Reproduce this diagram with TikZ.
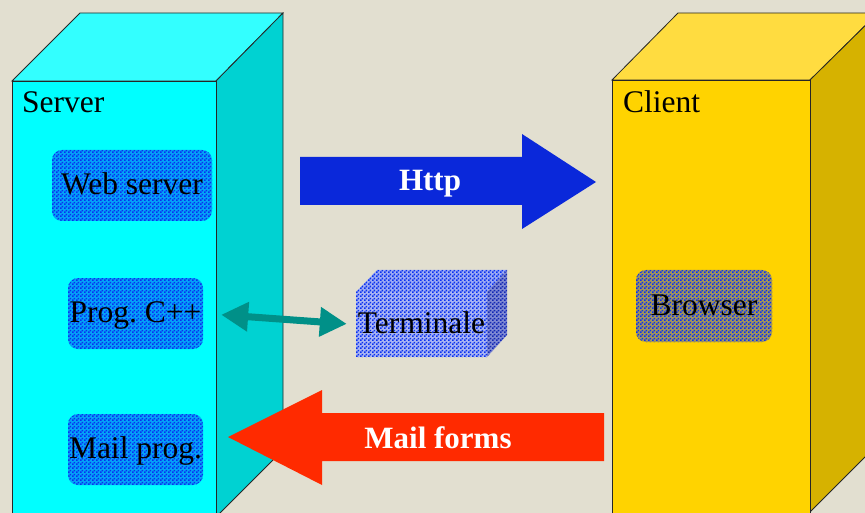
\documentclass[tikz,border=0pt]{standalone}
\usepackage{fontspec}
\setmainfont{Liberation Serif}
\usetikzlibrary{arrows.meta,patterns.meta}
\definecolor{bgc}{HTML}{E2DFD0}
\definecolor{srvfront}{HTML}{00FFFF}
\definecolor{srvtop}{HTML}{33FFFF}
\definecolor{srvside}{HTML}{00D2D2}
\definecolor{clifront}{HTML}{FFD300}
\definecolor{clitop}{HTML}{FFDC40}
\definecolor{cliside}{HTML}{D6B200}
\definecolor{chkblue}{HTML}{0A30F0}
\definecolor{chkdark}{HTML}{1428B4}
\definecolor{termlight}{HTML}{EEEEF4}
\definecolor{httpblue}{HTML}{0A28DA}
\definecolor{mailred}{HTML}{FF2A00}
\definecolor{tealc}{HTML}{009088}
\tikzdeclarepattern{
  name=chk,
  type=uncolored,
  bottom left={(0pt,0pt)},
  top right={(4pt,4pt)},
  tile size={(4pt,4pt)},
  code={\fill (0pt,0pt) rectangle (2pt,2pt); \fill (2pt,2pt) rectangle (4pt,4pt);}
}
\tikzset{
  boxline/.style={draw=black!85, line width=0.8pt},
  bigtext/.style={font=\fontsize{31.5}{37}\selectfont},
  progbox/.style={rounded corners=10pt, preaction={fill=#1}, pattern=chk, pattern color=chkblue,
    inner sep=0pt, bigtext, text height=24pt, text depth=6pt, minimum height=71pt},
  progbox/.default={chkblue!45!srvfront},
  arrowtext/.style={font=\fontsize{31}{37}\selectfont\bfseries, text=white},
  tealarrow/.style={draw=tealc, line width=7pt,
    {Triangle[length=27pt,width=28pt]}-{Triangle[length=27pt,width=28pt]}}
}
\begin{document}
\begin{tikzpicture}[x=1pt,y=-1pt]
\useasboundingbox (0,0) rectangle (865,513);
\clip (0,0) rectangle (865,513);
\fill[bgc] (0,0) rectangle (865,513);

% Server cube
\filldraw[boxline, fill=srvtop] (12,81) -- (80,13) -- (283,13) -- (216,81) -- cycle;
\filldraw[boxline, fill=srvside] (216,81) -- (283,13) -- (283,450) -- (216,517) -- cycle;
\filldraw[boxline, fill=srvfront] (12,81) rectangle (216,530);
\node[bigtext, anchor=base west, inner sep=0pt] (server) at (22,113) {Server};

% Client cube
\filldraw[boxline, fill=clitop] (612,80) -- (678,13) -- (878,13) -- (810,80) -- cycle;
\filldraw[boxline, fill=cliside] (810,80) -- (878,13) -- (878,444) -- (810,512) -- cycle;
\filldraw[boxline, fill=clifront] (612,80) rectangle (810,530);
\node[bigtext, anchor=base west, inner sep=0pt] (client) at (623,113) {Client};

% inner boxes
\node[progbox, minimum width=160pt] (web) at (132,185.5) {Web server};
\node[progbox, minimum width=135pt] (progc) at (135.5,313.5) {Prog.\ C++};
\node[progbox, minimum width=135pt] (mail) at (135.5,449.5) {Mail prog.};
\node[progbox={chkblue!38!clifront}, minimum width=136pt, minimum height=72pt] (browser) at (704,306) {Browser};

% Terminale cube
\fill[chkblue!35!termlight] (356,292) -- (377,270) -- (507,270) -- (487,292) -- cycle;
\fill[pattern=chk, pattern color=chkblue] (356,292) -- (377,270) -- (507,270) -- (487,292) -- cycle;
\fill[chkdark!50!termlight] (487,292) -- (507,270) -- (507,335) -- (487,357) -- cycle;
\fill[pattern=chk, pattern color=chkdark] (487,292) -- (507,270) -- (507,335) -- (487,357) -- cycle;
\node[preaction={fill=chkblue!30!termlight}, pattern=chk, pattern color=chkblue, minimum width=131pt, minimum height=65pt,
      inner sep=0pt, bigtext, text height=24pt, text depth=6pt] (term) at (421.5,324.5) {Terminale};

% Http arrow
\fill[httpblue] (300,157) -- (522,157) -- (522,134) -- (596,182) -- (522,229) -- (522,205) -- (300,205) -- cycle;
\node[arrowtext, anchor=base] (http) at (430,191) {Http};

% Mail forms arrow
\fill[mailred] (604,413) -- (322,413) -- (322,390) -- (228,437) -- (322,485) -- (322,461) -- (604,461) -- cycle;
\node[arrowtext, anchor=base] (mailforms) at (438,448) {Mail forms};

% teal double arrow
\draw[tealarrow, shorten <=18pt, shorten >=9pt] (progc.east) -- (term.west);
\end{tikzpicture}
\end{document}
